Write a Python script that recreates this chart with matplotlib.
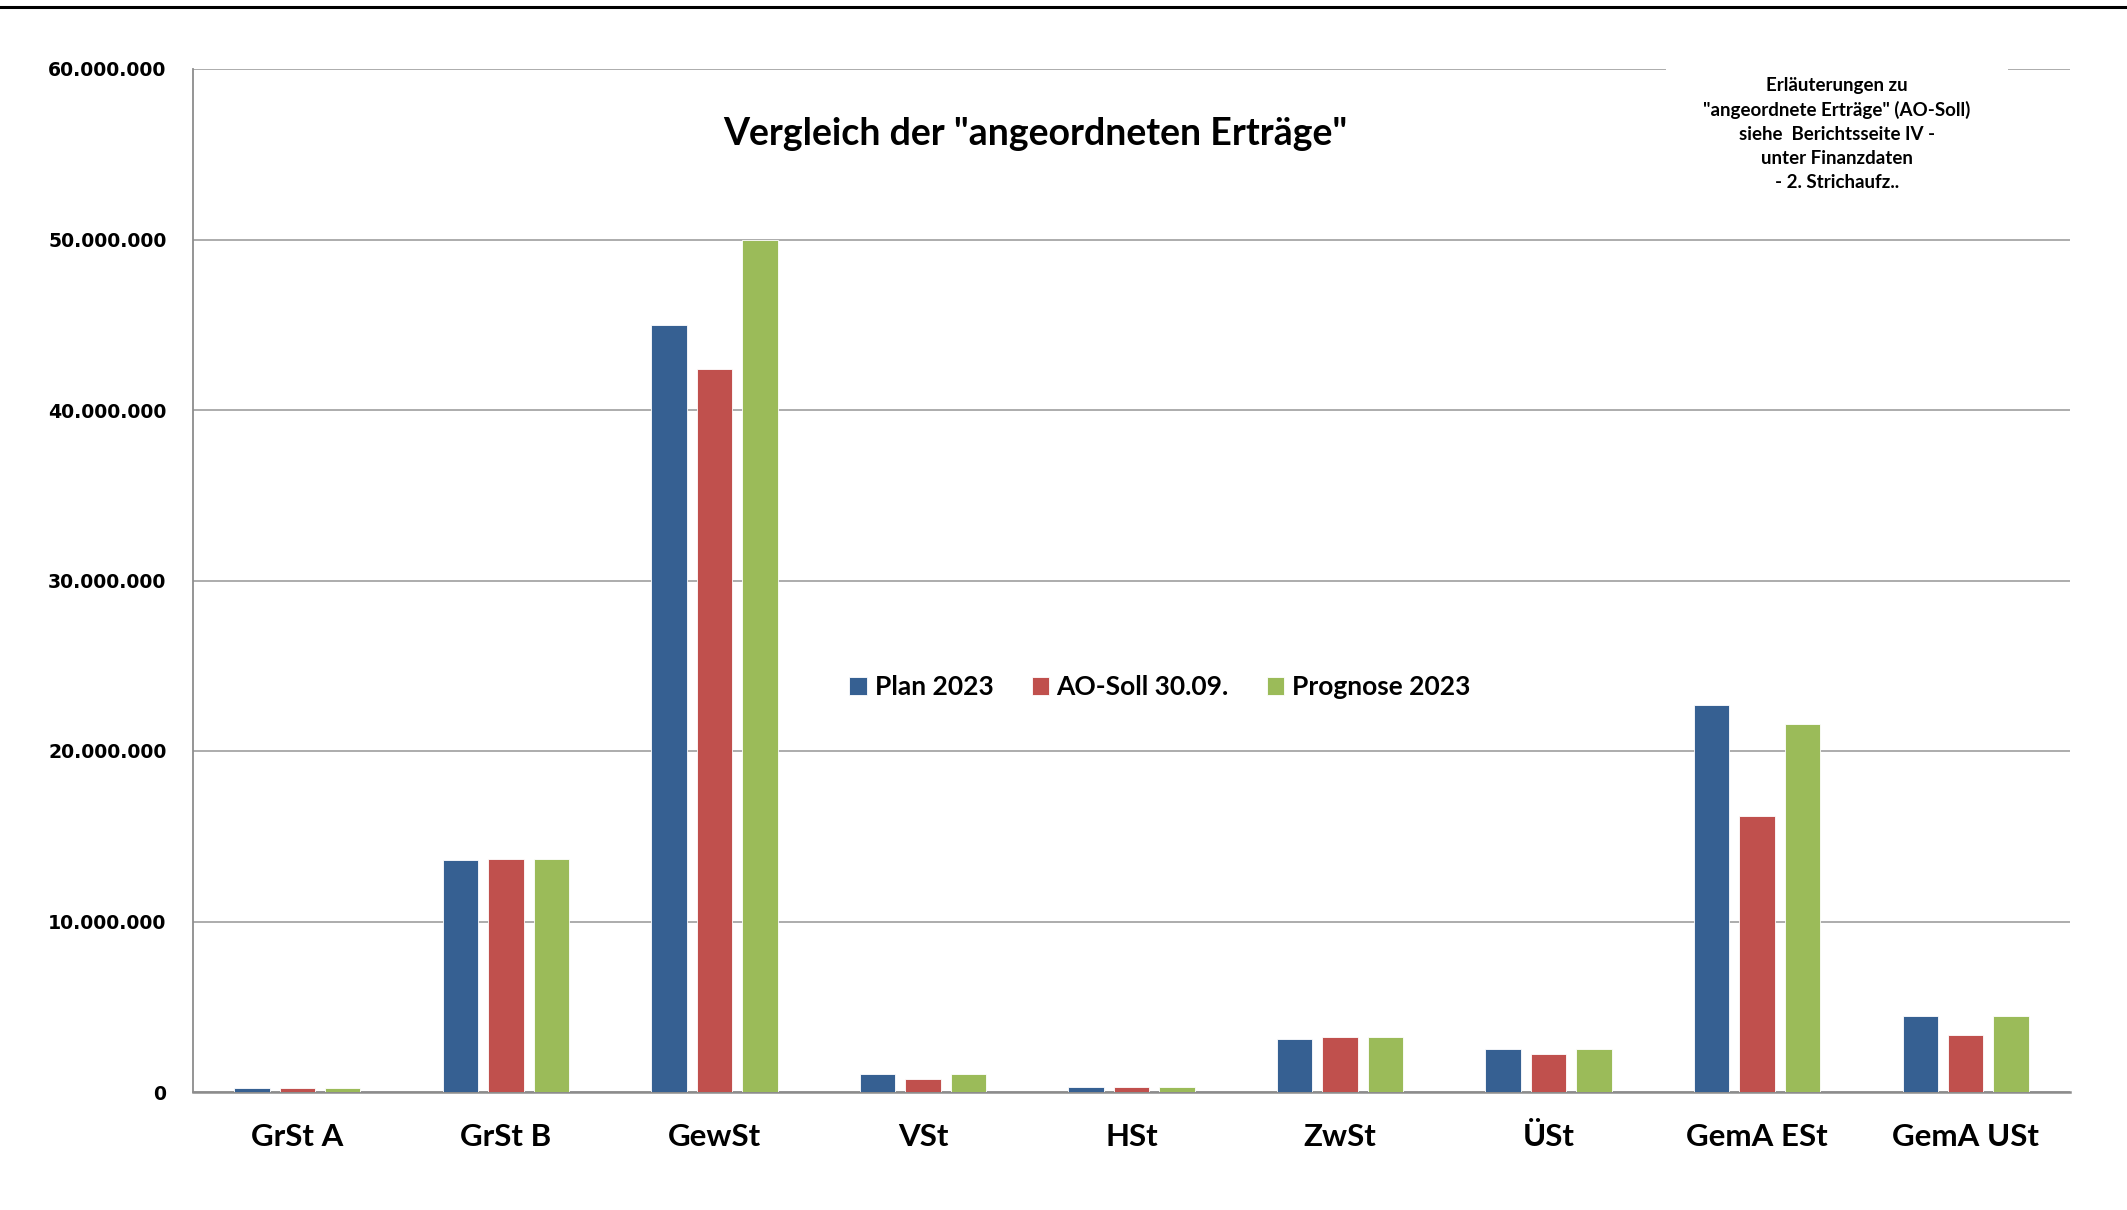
import matplotlib.pyplot as plt
import numpy as np
from matplotlib.lines import Line2D
from matplotlib.patches import Rectangle

# Kategorien und Werte (EUR)
kategorien = ['GrSt A', 'GrSt B', 'GewSt', 'VSt', 'HSt', 'ZwSt', 'ÜSt', 'GemA ESt', 'GemA USt']
plan_2023 = [220000, 13600000, 45000000, 1060000, 280000, 3110000, 2520000, 22700000, 4460000]
ao_soll = [220000, 13650000, 42400000, 740000, 280000, 3210000, 2250000, 16200000, 3340000]
prognose_2023 = [220000, 13650000, 50000000, 1060000, 280000, 3210000, 2520000, 21600000, 4460000]
serien = ['Plan 2023', 'AO-Soll 30.09.', 'Prognose 2023']
farben = ['#366092', '#C0504D', '#9BBB59']
y_ticks = [0, 10000000, 20000000, 30000000, 40000000, 50000000, 60000000]

plt.rcParams['font.family'] = ['Lato', 'DejaVu Sans']

fig = plt.figure(figsize=(21.27, 12.10), dpi=100)
ax = fig.add_axes([193/2127, 1 - 1092/1210, (2070 - 193)/2127, (1092 - 69)/1210])

x = np.arange(len(kategorien))
breite = 0.17
abstand = 0.218
for i, (werte, name, farbe) in enumerate(zip([plan_2023, ao_soll, prognose_2023], serien, farben)):
    ax.bar(x + (i - 1) * abstand, werte, width=breite, color=farbe, label=name,
           edgecolor='white', linewidth=0.6, zorder=3)

ax.set_xlim(-0.5, len(kategorien) - 0.5)
ax.set_ylim(0, 60000000)
ax.set_yticks(y_ticks)
ax.set_yticklabels(['{:,}'.format(v).replace(',', '.') for v in y_ticks],
                   fontfamily='DejaVu Sans', fontweight='bold', fontsize=13.6)
ax.tick_params(axis='y', length=0, pad=19)
ax.set_xticks(x)
ax.set_xticklabels(kategorien, fontweight='bold', fontsize=22.5)
ax.tick_params(axis='x', length=0, pad=22)
ax.grid(axis='y', color='#A6A6A6', linewidth=1.3, zorder=0)
for s in ['top', 'right']:
    ax.spines[s].set_visible(False)
ax.spines['left'].set_color('#8C8C8C')
ax.spines['bottom'].set_color('#8C8C8C')
ax.spines['left'].set_linewidth(1.3)
ax.spines['bottom'].set_linewidth(1.8)

ax.legend(loc='center', bbox_to_anchor=(1160/2127, 1 - 687/1210), bbox_transform=fig.transFigure,
          ncol=3, frameon=False, handlelength=0.65, handleheight=0.65, handletextpad=0.3,
          columnspacing=1.45, prop={'weight': 'bold', 'size': 19})

fig.text(1035/2127, 1 - 134/1210, 'Vergleich der "angeordneten Erträge"',
         ha='center', va='center', fontweight='bold', fontsize=27)

# Erläuterungsfeld deckt die obere Gitterlinie ab
fig.add_artist(Rectangle((1666/2127, 1 - 200/1210), (2008 - 1666)/2127, 140/1210,
                         transform=fig.transFigure, facecolor='white', edgecolor='none', zorder=5))
fig.text(1837/2127, 1 - 134/1210,
         'Erläuterungen zu\n"angeordnete Erträge" (AO-Soll)\nsiehe  Berichtsseite IV -\nunter Finanzdaten\n- 2. Strichaufz..',
         ha='center', va='center', fontweight='bold', fontsize=13.5, linespacing=1.5, zorder=6)

# schwarze Linie oben
fig.add_artist(Line2D([0, 1], [1 - 7/1210, 1 - 7/1210], transform=fig.transFigure,
                      color='black', linewidth=2.2))

plt.savefig('out.png', dpi=100)
plt.close()
